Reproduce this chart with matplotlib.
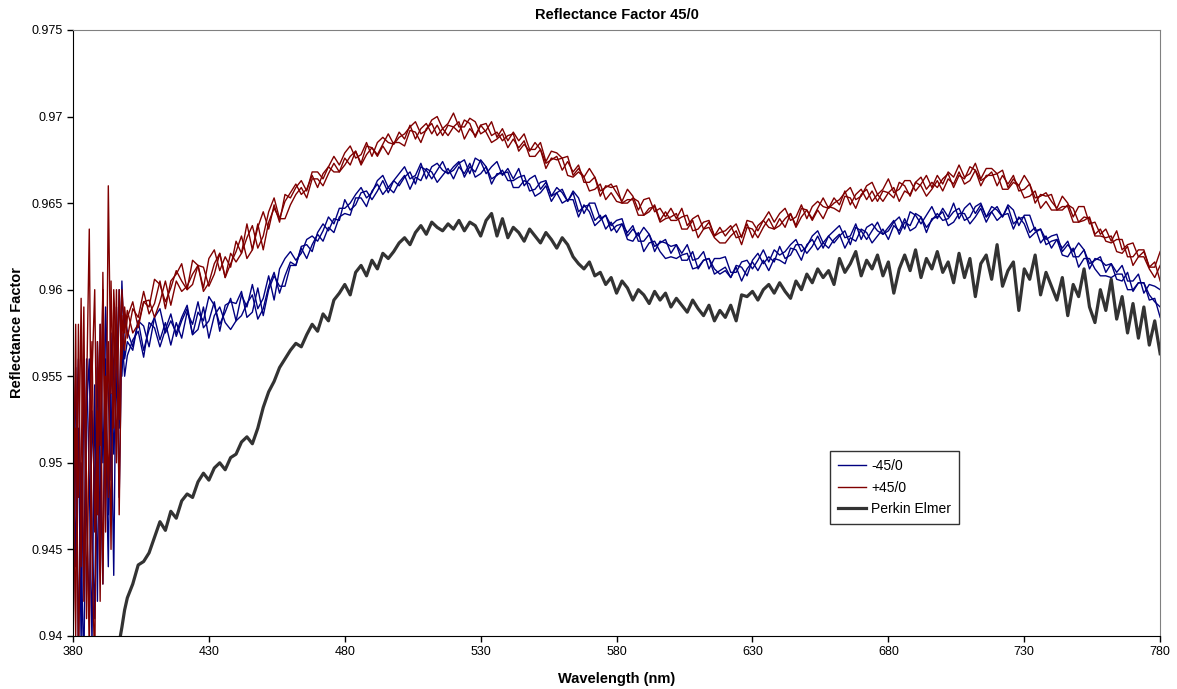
import numpy as np
import matplotlib
matplotlib.use("Agg")
import matplotlib.pyplot as plt
from matplotlib.ticker import FormatStrFormatter

plt.rcParams['font.family'] = ['Liberation Sans', 'DejaVu Sans']

# wavelength grid: 1 nm over the noisy start, then 2 nm steps up to 780
wavelength = list(range(380, 400)) + list(range(400, 781, 2))

# reflectance factor values, stored x 1e-4
minus45_a = [9563, 9440, 9520, 9395, 9548, 9470, 9410, 9530, 9480, 9555,
             9450, 9600, 9520, 9440, 9575, 9505, 9540, 9600, 9550, 9585,
             9576, 9567, 9582, 9565, 9577, 9584, 9571, 9581, 9568, 9581,
             9572, 9587, 9580, 9593, 9578, 9582, 9593, 9576, 9591, 9593,
             9592, 9599, 9584, 9587, 9601, 9585, 9600, 9608, 9602, 9602,
             9614, 9614, 9625, 9626, 9622, 9633, 9638, 9634, 9641, 9640,
             9652, 9646, 9649, 9656, 9657, 9652, 9657, 9663, 9656, 9663,
             9660, 9665, 9668, 9661, 9671, 9669, 9664, 9669, 9674, 9667,
             9671, 9674, 9665, 9671, 9668, 9675, 9671, 9664, 9666, 9669,
             9663, 9663, 9665, 9666, 9657, 9658, 9662, 9663, 9654, 9656,
             9658, 9651, 9656, 9645, 9648, 9649, 9640, 9643, 9635, 9639,
             9633, 9638, 9633, 9637, 9628, 9628, 9632, 9622, 9628, 9627,
             9625, 9626, 9617, 9617, 9622, 9612, 9617, 9618, 9612, 9609,
             9611, 9607, 9614, 9613, 9608, 9617, 9621, 9615, 9619, 9616,
             9625, 9618, 9620, 9626, 9626, 9621, 9625, 9631, 9624, 9631,
             9627, 9631, 9634, 9626, 9636, 9634, 9629, 9634, 9639, 9632,
             9636, 9640, 9632, 9639, 9637, 9644, 9642, 9636, 9640, 9644,
             9640, 9641, 9645, 9647, 9640, 9642, 9648, 9650, 9642, 9645,
             9648, 9642, 9648, 9638, 9641, 9642, 9633, 9636, 9627, 9631,
             9624, 9629, 9624, 9628, 9619, 9619, 9623, 9612, 9618, 9617,
             9614, 9615, 9606, 9605, 9610, 9599, 9604, 9604, 9597, 9593,
             9590]
minus45_b = [9470, 9555, 9385, 9500, 9430, 9560, 9490, 9395, 9545, 9420,
             9580, 9500, 9560, 9470, 9540, 9435, 9590, 9520, 9605, 9560,
             9570, 9565, 9582, 9579, 9567, 9584, 9589, 9575, 9582, 9575,
             9584, 9591, 9574, 9587, 9582, 9596, 9591, 9580, 9587, 9595,
             9582, 9597, 9590, 9603, 9589, 9595, 9608, 9594, 9612, 9618,
             9622, 9617, 9621, 9629, 9631, 9628, 9634, 9642, 9638, 9647,
             9647, 9650, 9655, 9659, 9653, 9656, 9663, 9666, 9659, 9663,
             9667, 9671, 9664, 9666, 9673, 9664, 9671, 9673, 9669, 9667,
             9669, 9673, 9675, 9667, 9676, 9674, 9667, 9671, 9674, 9666,
             9670, 9664, 9670, 9660, 9664, 9666, 9658, 9662, 9654, 9659,
             9656, 9651, 9657, 9653, 9644, 9650, 9650, 9641, 9643, 9637,
             9640, 9641, 9631, 9635, 9631, 9636, 9632, 9625, 9627, 9629,
             9621, 9626, 9621, 9626, 9617, 9618, 9622, 9612, 9618, 9618,
             9619, 9610, 9610, 9616, 9617, 9612, 9617, 9623, 9616, 9623,
             9620, 9622, 9626, 9629, 9622, 9625, 9631, 9634, 9627, 9631,
             9634, 9637, 9630, 9631, 9638, 9629, 9636, 9638, 9634, 9632,
             9634, 9639, 9642, 9635, 9645, 9643, 9638, 9643, 9648, 9641,
             9647, 9642, 9650, 9641, 9647, 9650, 9644, 9649, 9642, 9648,
             9646, 9642, 9649, 9646, 9637, 9643, 9643, 9634, 9635, 9629,
             9631, 9632, 9622, 9626, 9622, 9627, 9623, 9615, 9617, 9619,
             9610, 9615, 9610, 9614, 9605, 9605, 9609, 9598, 9603, 9602,
             9600]
minus45_c = [9400, 9510, 9560, 9450, 9380, 9530, 9560, 9460, 9410, 9570,
             9500, 9430, 9590, 9540, 9490, 9560, 9580, 9480, 9575, 9550,
             9562, 9571, 9576, 9561, 9581, 9578, 9567, 9577, 9586, 9573,
             9582, 9589, 9574, 9577, 9590, 9572, 9585, 9590, 9581, 9577,
             9582, 9585, 9592, 9597, 9583, 9589, 9602, 9610, 9598, 9608,
             9616, 9614, 9624, 9618, 9626, 9632, 9628, 9636, 9633, 9642,
             9644, 9643, 9653, 9653, 9648, 9657, 9661, 9655, 9659, 9656,
             9662, 9666, 9658, 9665, 9663, 9670, 9668, 9662, 9666, 9670,
             9664, 9671, 9667, 9673, 9665, 9667, 9671, 9661, 9667, 9667,
             9668, 9659, 9659, 9663, 9661, 9654, 9656, 9660, 9651, 9656,
             9650, 9652, 9652, 9642, 9649, 9645, 9637, 9640, 9643, 9634,
             9637, 9638, 9629, 9628, 9633, 9622, 9627, 9628, 9622, 9618,
             9619, 9618, 9620, 9621, 9612, 9613, 9617, 9618, 9609, 9611,
             9613, 9607, 9613, 9605, 9612, 9616, 9611, 9617, 9611, 9618,
             9617, 9615, 9624, 9623, 9617, 9626, 9629, 9623, 9627, 9624,
             9629, 9632, 9624, 9630, 9628, 9635, 9633, 9627, 9631, 9635,
             9629, 9637, 9634, 9641, 9634, 9636, 9642, 9633, 9641, 9642,
             9645, 9637, 9639, 9644, 9644, 9638, 9642, 9647, 9639, 9645,
             9640, 9643, 9644, 9635, 9642, 9638, 9630, 9633, 9635, 9626,
             9628, 9629, 9620, 9619, 9624, 9613, 9618, 9618, 9612, 9608,
             9608, 9607, 9609, 9609, 9600, 9600, 9604, 9604, 9594, 9595,
             9584]

plus45_a = [9390, 9520, 9480, 9595, 9420, 9540, 9635, 9450, 9380, 9570,
            9510, 9600, 9460, 9660, 9540, 9590, 9500, 9600, 9560, 9590,
            9572, 9589, 9584, 9599, 9586, 9592, 9605, 9589, 9605, 9609,
            9615, 9600, 9603, 9614, 9613, 9602, 9609, 9621, 9607, 9621,
            9616, 9621, 9630, 9637, 9624, 9631, 9645, 9653, 9641, 9651,
            9656, 9661, 9655, 9658, 9666, 9659, 9667, 9671, 9668, 9668,
            9672, 9677, 9680, 9673, 9683, 9682, 9678, 9684, 9690, 9684,
            9691, 9687, 9695, 9687, 9693, 9696, 9690, 9695, 9689, 9695,
            9694, 9691, 9698, 9696, 9688, 9695, 9696, 9689, 9691, 9686,
            9689, 9690, 9680, 9684, 9680, 9685, 9681, 9673, 9675, 9677,
            9669, 9674, 9668, 9672, 9662, 9662, 9665, 9654, 9660, 9659,
            9660, 9650, 9650, 9653, 9651, 9643, 9645, 9649, 9640, 9645,
            9640, 9640, 9642, 9643, 9634, 9635, 9639, 9640, 9631, 9633,
            9634, 9637, 9630, 9631, 9638, 9630, 9637, 9640, 9636, 9635,
            9637, 9641, 9644, 9637, 9647, 9646, 9641, 9647, 9653, 9647,
            9653, 9649, 9657, 9649, 9655, 9658, 9652, 9657, 9651, 9657,
            9656, 9653, 9662, 9660, 9654, 9662, 9665, 9658, 9662, 9659,
            9664, 9667, 9659, 9666, 9664, 9671, 9669, 9663, 9665, 9668,
            9660, 9666, 9661, 9666, 9657, 9658, 9661, 9650, 9655, 9654,
            9655, 9646, 9646, 9649, 9647, 9639, 9640, 9642, 9632, 9635,
            9628, 9627, 9629, 9629, 9619, 9619, 9623, 9623, 9613, 9613,
            9622]
plus45_b = [9520, 9400, 9580, 9440, 9560, 9490, 9390, 9550, 9600, 9470,
            9580, 9430, 9550, 9480, 9605, 9520, 9600, 9470, 9585, 9565,
            9584, 9593, 9578, 9593, 9590, 9606, 9603, 9593, 9601, 9611,
            9605, 9600, 9617, 9614, 9601, 9618, 9623, 9611, 9619, 9613,
            9628, 9621, 9638, 9623, 9636, 9645, 9635, 9649, 9639, 9655,
            9653, 9659, 9663, 9657, 9668, 9668, 9664, 9671, 9677, 9672,
            9679, 9683, 9676, 9678, 9685, 9677, 9685, 9688, 9685, 9684,
            9688, 9690, 9694, 9697, 9690, 9692, 9698, 9700, 9693, 9696,
            9702, 9694, 9694, 9699, 9697, 9690, 9692, 9697, 9688, 9693,
            9686, 9691, 9686, 9690, 9681, 9681, 9685, 9674, 9680, 9679,
            9676, 9677, 9666, 9670, 9665, 9670, 9665, 9657, 9659, 9661,
            9656, 9651, 9658, 9654, 9646, 9652, 9653, 9645, 9647, 9642,
            9647, 9641, 9647, 9637, 9641, 9643, 9635, 9639, 9631, 9636,
            9631, 9635, 9638, 9630, 9640, 9639, 9634, 9640, 9645, 9639,
            9644, 9647, 9640, 9642, 9649, 9641, 9648, 9651, 9648, 9647,
            9650, 9652, 9656, 9659, 9652, 9654, 9660, 9662, 9655, 9658,
            9664, 9656, 9658, 9663, 9663, 9657, 9661, 9666, 9659, 9666,
            9661, 9668, 9665, 9672, 9665, 9667, 9673, 9664, 9670, 9670,
            9667, 9669, 9659, 9664, 9660, 9666, 9661, 9653, 9654, 9656,
            9651, 9647, 9654, 9650, 9642, 9648, 9648, 9638, 9639, 9632,
            9635, 9628, 9634, 9623, 9626, 9627, 9619, 9622, 9613, 9616,
            9605]
plus45_c = [9450, 9580, 9380, 9500, 9590, 9410, 9520, 9570, 9460, 9530,
            9420, 9610, 9500, 9570, 9450, 9600, 9560, 9525, 9600, 9575,
            9588, 9575, 9580, 9593, 9594, 9584, 9593, 9605, 9591, 9605,
            9599, 9602, 9609, 9614, 9599, 9604, 9615, 9621, 9607, 9615,
            9622, 9631, 9618, 9623, 9638, 9623, 9639, 9647, 9641, 9641,
            9649, 9655, 9659, 9653, 9664, 9664, 9660, 9667, 9673, 9668,
            9676, 9672, 9680, 9672, 9678, 9682, 9677, 9683, 9678, 9685,
            9685, 9683, 9692, 9691, 9685, 9693, 9696, 9689, 9693, 9689,
            9694, 9697, 9687, 9693, 9689, 9695, 9691, 9685, 9687, 9690,
            9682, 9687, 9682, 9686, 9677, 9677, 9681, 9670, 9676, 9675,
            9676, 9666, 9665, 9668, 9665, 9657, 9658, 9661, 9652, 9656,
            9651, 9650, 9652, 9652, 9643, 9643, 9647, 9648, 9639, 9641,
            9642, 9644, 9635, 9635, 9640, 9630, 9635, 9636, 9630, 9627,
            9627, 9631, 9634, 9626, 9636, 9635, 9630, 9636, 9641, 9635,
            9641, 9636, 9644, 9636, 9642, 9646, 9640, 9646, 9641, 9648,
            9647, 9645, 9654, 9653, 9647, 9655, 9658, 9651, 9655, 9651,
            9656, 9659, 9651, 9657, 9655, 9662, 9660, 9654, 9658, 9663,
            9657, 9664, 9661, 9668, 9661, 9663, 9669, 9660, 9666, 9666,
            9667, 9658, 9658, 9662, 9660, 9653, 9654, 9657, 9647, 9651,
            9646, 9646, 9648, 9648, 9639, 9639, 9642, 9641, 9631, 9631,
            9630, 9631, 9622, 9621, 9625, 9614, 9619, 9619, 9612, 9607,
            9614]

perkin_elmer = [9330, 9335, 9340, 9345, 9350, 9355, 9360, 9365, 9370, 9372,
                9375, 9378, 9381, 9384, 9387, 9390, 9393, 9396, 9405, 9415,
                9422, 9430, 9441, 9443, 9448, 9457, 9466, 9461, 9472, 9468,
                9478, 9482, 9480, 9489, 9494, 9490, 9497, 9500, 9496, 9503,
                9505, 9512, 9515, 9511, 9520, 9532, 9541, 9547, 9555, 9560,
                9565, 9569, 9567, 9574, 9580, 9576, 9586, 9582, 9594, 9598,
                9603, 9597, 9610, 9614, 9608, 9617, 9612, 9621, 9618, 9622,
                9627, 9630, 9626, 9633, 9637, 9632, 9639, 9636, 9634, 9638,
                9635, 9640, 9634, 9639, 9637, 9631, 9640, 9644, 9631, 9641,
                9630, 9636, 9633, 9628, 9635, 9631, 9627, 9633, 9629, 9624,
                9630, 9626, 9619, 9615, 9612, 9616, 9608, 9610, 9603, 9607,
                9598, 9605, 9601, 9594, 9600, 9597, 9592, 9599, 9594, 9598,
                9590, 9595, 9591, 9587, 9594, 9589, 9585, 9591, 9582, 9588,
                9584, 9591, 9582, 9597, 9596, 9599, 9594, 9600, 9603, 9598,
                9604, 9599, 9595, 9605, 9600, 9609, 9604, 9612, 9607, 9611,
                9603, 9618, 9610, 9615, 9622, 9608, 9617, 9612, 9620, 9608,
                9616, 9598, 9612, 9620, 9611, 9623, 9607, 9618, 9612, 9622,
                9610, 9616, 9604, 9621, 9607, 9618, 9596, 9615, 9620, 9606,
                9626, 9602, 9611, 9616, 9588, 9612, 9606, 9620, 9597, 9610,
                9602, 9594, 9607, 9585, 9603, 9596, 9612, 9590, 9581, 9600,
                9588, 9606, 9583, 9596, 9575, 9592, 9572, 9590, 9568, 9582,
                9563]

x = np.array(wavelength)
scale = 1e-4
for s in [minus45_a, minus45_b, minus45_c, plus45_a, plus45_b, plus45_c, perkin_elmer]:
    assert len(s) == len(x), len(s)

fig = plt.figure(figsize=(11.77, 6.89), dpi=100)
ax = fig.add_axes([0.062, 0.077, 0.9237, 0.8795])

blue = "#000080"
red = "#800000"
for i, s in enumerate([minus45_a, minus45_b, minus45_c]):
    ax.plot(x, np.array(s) * scale, color=blue, lw=1.0,
            label="-45/0" if i == 0 else None)
for i, s in enumerate([plus45_a, plus45_b, plus45_c]):
    ax.plot(x, np.array(s) * scale, color=red, lw=1.0,
            label="+45/0" if i == 0 else None)
ax.plot(x, np.array(perkin_elmer) * scale, color="#333333", lw=2.3,
        label="Perkin Elmer")

ax.set_xlim(380, 780)
ax.set_ylim(0.94, 0.975)
ax.set_xticks(range(380, 781, 50))
ax.set_yticks(np.arange(0.94, 0.9751, 0.005))
ax.yaxis.set_major_formatter(FormatStrFormatter('%g'))
ax.tick_params(direction="out", length=4, labelsize=9, width=1)
for side in ["left", "bottom"]:
    ax.spines[side].set_color("black")
for side in ["top", "right"]:
    ax.spines[side].set_color("#808080")

ax.set_title("Reflectance Factor 45/0", fontsize=10.5, fontweight="bold", pad=8)
ax.set_xlabel("Wavelength (nm)", fontsize=10.5, fontweight="bold", labelpad=10)
ax.set_ylabel("Reflectance Factor", fontsize=10.5, fontweight="bold", labelpad=5)

leg = ax.legend(loc="lower left", bbox_to_anchor=(0.6965, 0.185), fontsize=10,
                frameon=True, fancybox=False, edgecolor="black",
                handlelength=2.0, handletextpad=0.4, borderpad=0.55,
                labelspacing=0.55, borderaxespad=0)
leg.get_frame().set_linewidth(1.0)

plt.savefig("out.png", dpi=100)
